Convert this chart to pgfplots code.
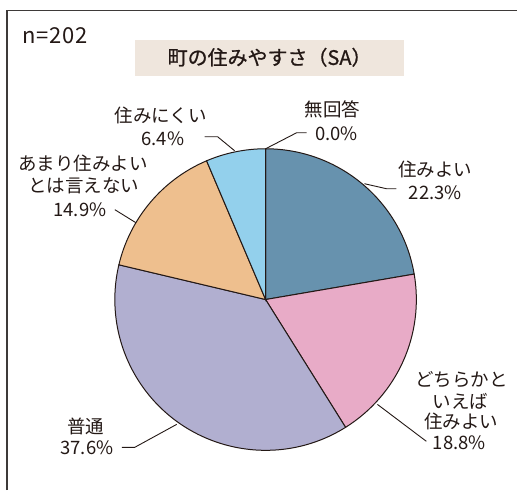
\documentclass[border=0pt]{standalone}
\usepackage{pgfplots}
\pgfplotsset{compat=1.18}
\usepackage{pgfplotstable}
\usepackage{fontspec}
\setmainfont{Noto Sans CJK JP}
\newfontfamily\titlefont[FakeBold=0.9]{Noto Sans CJK JP}
\newfontfamily\nfont[LetterSpace=4]{Noto Sans CJK JP}
\definecolor{txt}{HTML}{231815}
\definecolor{frame}{HTML}{3E3A39}
\definecolor{titlebg}{HTML}{EFE6DD}
\definecolor{cA}{HTML}{6792AE}
\definecolor{cB}{HTML}{E8ABC7}
\definecolor{cC}{HTML}{B1AFD0}
\definecolor{cD}{HTML}{EEBF8E}
\definecolor{cE}{HTML}{93D0EC}
\definecolor{cF}{HTML}{CCCCCC}
% share (%) of each answer, clockwise from the top
\pgfplotstableread{
value color
22.3 cA
18.8 cB
37.6 cC
14.9 cD
6.4 cE
0.0 cF
}\piedata
\begin{document}
\begin{tikzpicture}
\begin{axis}[scale only axis, width=518pt, height=491pt,
  xmin=0, xmax=518, ymin=0, ymax=491, y dir=reverse,
  hide axis, clip=false]
\path (rel axis cs:0,0) rectangle (rel axis cs:1,1);
% frame
\draw[frame, line width=1.6pt] (axis cs:7,491) -- (axis cs:7,10.5) -- (axis cs:518,10.5);
% title
\fill[titlebg] (axis cs:135,40) rectangle (axis cs:405,76);
\node[anchor=base, text=txt, font=\fontsize{20}{20}\titlefont] at (axis cs:270,65) {町の住みやすさ（SA）};
\node[anchor=base west, text=txt, font=\fontsize{22}{22}\nfont, inner sep=0pt] at (axis cs:22,44) {n=202};
% pie
\pgfplotstablegetrowsof{\piedata}
\pgfmathtruncatemacro\nrows{\pgfplotsretval-1}
\def\cum{0}
\pgfplotsforeachungrouped \i in {0,...,\nrows}{%
  \pgfplotstablegetelem{\i}{value}\of\piedata \let\v\pgfplotsretval
  \pgfplotstablegetelem{\i}{color}\of\piedata \let\c\pgfplotsretval
  \pgfmathsetmacro\sa{90-3.6*\cum}%
  \pgfmathsetmacro\ea{90-3.6*(\cum+\v)}%
  \edef\temp{\noexpand\filldraw[fill=\c, draw=txt, line width=1pt] (axis cs:266,300) -- ++(\sa:151pt) arc[start angle=\sa, end angle=\ea, radius=151pt] -- cycle;}%
  \temp
  \pgfmathsetmacro\cum{\cum+\v}%
}
% leaders
\draw[txt, line width=0.9pt] (axis cs:266,149) -- (axis cs:297,133) -- (axis cs:307,133);
\draw[txt, line width=0.9pt] (axis cs:365,184) -- (axis cs:387,189) -- (axis cs:397,189);
\draw[txt, line width=0.9pt] (axis cs:378,405) -- (axis cs:427,442);
\draw[txt, line width=0.9pt] (axis cs:177,425) -- (axis cs:135,448) -- (axis cs:122,448);
\draw[txt, line width=0.9pt] (axis cs:136,223) -- (axis cs:115,210);
\draw[txt, line width=0.9pt] (axis cs:235,151) -- (axis cs:218,137) -- (axis cs:205,137);
% labels
\tikzset{lab/.style={anchor=base, text=txt, font=\fontsize{18.5}{18.5}\selectfont, inner sep=0pt}}
\node[lab] at (axis cs:333,117) {無回答};
\node[lab] at (axis cs:337,141) {0.0\%};
\node[lab] at (axis cs:436,177) {住みよい};
\node[lab] at (axis cs:436,200) {22.3\%};
\node[lab] at (axis cs:462,387) {どちらかと};
\node[lab] at (axis cs:461,409) {いえば};
\node[lab] at (axis cs:462,429) {住みよい};
\node[lab] at (axis cs:460,450) {18.8\%};
\node[lab] at (axis cs:86,434) {普通};
\node[lab] at (axis cs:87,455.5) {37.6\%};
\node[lab] at (axis cs:83,171) {あまり住みよい};
\node[lab] at (axis cs:84,193) {とは言えない};
\node[lab] at (axis cs:80,217) {14.9\%};
\node[lab] at (axis cs:161,123) {住みにくい};
\node[lab] at (axis cs:163,146) {6.4\%};
\end{axis}
\end{tikzpicture}
\end{document}
